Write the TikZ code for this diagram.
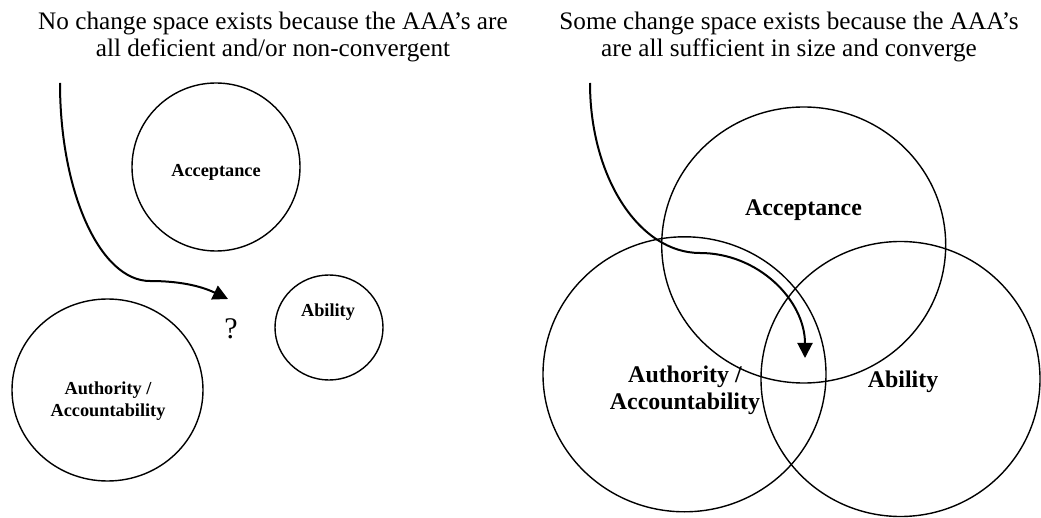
\documentclass[tikz,border=0pt]{standalone}
\usepackage{fontspec}
\setmainfont{Liberation Serif}
\usetikzlibrary{arrows.meta,shapes.geometric}
\begin{document}
\begin{tikzpicture}[x=1pt,y=-1pt,
  ring/.style={draw, ellipse, line width=1.4pt, inner sep=0pt},
  title/.style={anchor=base, align=center, inner sep=0pt, font=\fontsize{25.2}{27}\selectfont},
  smalllbl/.style={anchor=base, align=center, inner sep=0pt, font=\fontsize{18.3}{22}\selectfont\bfseries},
  biglbl/.style={anchor=base, align=center, inner sep=0pt, font=\fontsize{23.9}{27}\selectfont\bfseries},
  flow/.style={line width=2pt, -{Triangle[length=15pt,width=15pt]}}]
\useasboundingbox (0,0) rectangle (1041,518);
% titles (anchor base = baseline of the last line)
\node[title] (tL) at (273,56.5) {No change space exists because the AAA’s are\\all deficient and/or non-convergent};
\node[title] (tR) at (789,56.5) {Some change space exists because the AAA’s\\are all sufficient in size and converge};
% left panel
\node[ring, minimum width=168pt, minimum height=168pt] (accL) at (216,167) {};
\node[ring, minimum width=191pt, minimum height=182pt] (autL) at (107.5,390) {};
\node[ring, minimum width=108pt, minimum height=105pt] (abiL) at (329,327.5) {};
\node[smalllbl] (accLt) at (216,177) {Acceptance};
\node[smalllbl] (abiLt) at (328,317) {Ability};
\node[smalllbl] (autLt) at (108,416) {Authority /\\Accountability};
\node[anchor=base, inner sep=0pt, font=\fontsize{30}{32}\selectfont] (q) at (231,338) {?};
\coordinate (sL) at (60,83);
\coordinate (mL) at (150,281);
\coordinate (eL) at (228,299);
\draw[flow] (sL) .. controls (60,192) and (100,281) .. (mL)
  .. controls (185,281) and (205,288) .. (eL);
% right panel
\node[ring, minimum width=284pt, minimum height=276pt] (accR) at (803.7,245) {};
\node[ring, minimum width=283pt, minimum height=275pt] (autR) at (684.5,374.3) {};
\node[ring, minimum width=279pt, minimum height=275pt] (abiR) at (900.5,379) {};
\node[biglbl] (accRt) at (803.5,216) {Acceptance};
\node[biglbl] (autRt) at (685,409) {Authority /\\Accountability};
\node[biglbl] (abiRt) at (903,387) {Ability};
\coordinate (sR) at (590,83);
\coordinate (mR) at (700,253);
\coordinate (eR) at (805,358);
\draw[flow] (sR) .. controls (590,177) and (639,253) .. (mR)
  .. controls (758,253) and (805,300) .. (eR);
\end{tikzpicture}
\end{document}
